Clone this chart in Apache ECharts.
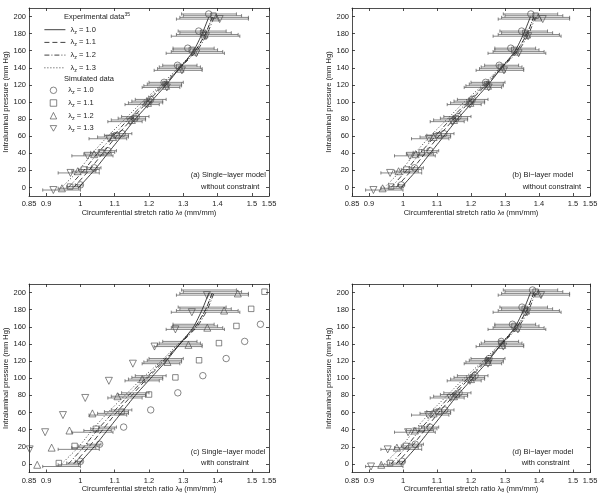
<!DOCTYPE html>
<html>
<head>
<meta charset="utf-8">
<script src="https://cdn.jsdelivr.net/npm/echarts@6/dist/echarts.min.js"></script>
<style>
html, body { margin: 0; padding: 0; background: #fff; }
#chart { width: 604px; height: 501px; }
</style>
</head>
<body>
<div id="chart"></div>
<script>
// pressure steps (mm Hg) and axis ticks
var pressures = [0, 20, 40, 60, 80, 100, 120, 140, 160, 180, 200];
var stretchTicks = [0.85, 0.9, 1, 1.1, 1.2, 1.3, 1.4, 1.5, 1.55];
var pressureTicks = [0, 20, 40, 60, 80, 100, 120, 140, 160, 180, 200];
var lambdaZ = ['1.0', '1.1', '1.2', '1.3'];

// experimental data: mean stretch and SD per axial stretch
var expMean10 = [0.995, 1.04, 1.08, 1.12, 1.16, 1.205, 1.25, 1.29, 1.33, 1.355, 1.375];
var expMean11 = [0.98, 1.025, 1.065, 1.105, 1.15, 1.195, 1.245, 1.29, 1.335, 1.365, 1.385];
var expMean12 = [0.965, 1.01, 1.05, 1.095, 1.14, 1.19, 1.24, 1.29, 1.34, 1.37, 1.39];
var expMean13 = [0.945, 0.995, 1.035, 1.08, 1.13, 1.18, 1.235, 1.285, 1.335, 1.365, 1.385];
var expSd10 = [0.01, 0.02, 0.025, 0.03, 0.04, 0.045, 0.05, 0.05, 0.06, 0.07, 0.08];
var expSd11 = [0.02, 0.03, 0.035, 0.035, 0.04, 0.045, 0.05, 0.06, 0.065, 0.075, 0.085];
var expSd12 = [0.03, 0.035, 0.04, 0.045, 0.05, 0.05, 0.055, 0.065, 0.075, 0.09, 0.1];
var expSd13 = [0.055, 0.06, 0.06, 0.055, 0.05, 0.05, 0.055, 0.07, 0.085, 0.1, 0.105];

// simulated data, panel (a) single-layer without constraint
var simA10 = [1.0, 1.04, 1.08, 1.122, 1.163, 1.205, 1.244, 1.283, 1.313, 1.345, 1.374];
var simA11 = [0.97, 1.01, 1.06, 1.105, 1.158, 1.2, 1.248, 1.288, 1.325, 1.358, 1.388];
var simA12 = [0.946, 0.992, 1.04, 1.095, 1.15, 1.197, 1.25, 1.292, 1.332, 1.362, 1.396];
var simA13 = [0.921, 0.971, 1.021, 1.084, 1.145, 1.195, 1.252, 1.296, 1.338, 1.366, 1.406];
// panel (b) bi-layer without constraint
var simB10 = [0.995, 1.034, 1.079, 1.12, 1.162, 1.204, 1.243, 1.283, 1.317, 1.349, 1.376];
var simB11 = [0.965, 1.01, 1.055, 1.105, 1.155, 1.2, 1.247, 1.288, 1.327, 1.36, 1.39];
var simB12 = [0.94, 0.987, 1.037, 1.09, 1.15, 1.198, 1.25, 1.292, 1.333, 1.365, 1.398];
var simB13 = [0.913, 0.962, 1.02, 1.076, 1.145, 1.197, 1.252, 1.297, 1.34, 1.368, 1.411];
// panel (c) single-layer with constraint
var simC10 = [1.0, 1.056, 1.126, 1.205, 1.284, 1.357, 1.425, 1.479, 1.525, null, null];
var simC11 = [0.937, 0.983, 1.045, 1.12, 1.2, 1.277, 1.346, 1.404, 1.455, 1.498, 1.537];
var simC12 = [0.874, 0.916, 0.968, 1.035, 1.108, 1.18, 1.254, 1.315, 1.37, 1.419, 1.459];
var simC13 = [null, 0.852, 0.897, 0.949, 1.014, 1.083, 1.153, 1.216, 1.277, 1.325, 1.369];
// panel (d) bi-layer with constraint
var simD10 = [0.998, 1.036, 1.079, 1.123, 1.165, 1.212, 1.253, 1.289, 1.322, 1.35, 1.381];
var simD11 = [0.962, 1.008, 1.055, 1.105, 1.158, 1.205, 1.25, 1.29, 1.328, 1.358, 1.39];
var simD12 = [0.936, 0.982, 1.035, 1.09, 1.15, 1.2, 1.25, 1.292, 1.333, 1.362, 1.398];
var simD13 = [0.906, 0.955, 1.015, 1.074, 1.14, 1.197, 1.25, 1.295, 1.338, 1.365, 1.406];

var panelTitles = [
  ['(a) Single\u2212layer model', 'without constraint'],
  ['(b) Bi\u2212layer model', 'without constraint'],
  ['(c) Single\u2212layer model', 'with constraint'],
  ['(d) Bi\u2212layer model', 'with constraint']
];

var expMeans = [expMean10, expMean11, expMean12, expMean13];
var expSds = [expSd10, expSd11, expSd12, expSd13];
var simPanels = [
  [simA10, simA11, simA12, simA13],
  [simB10, simB11, simB12, simB13],
  [simC10, simC11, simC12, simC13],
  [simD10, simD11, simD12, simD13]
];

// styling
var FONT = 'Liberation Sans, Arial, sans-serif';
var INK = '#222';
var lineTypes = ['solid', [5, 3], [5, 2, 1, 2], [1, 2]];
var markerSymbols = ['circle', 'rect', 'triangle', 'path://M0,0L2,0L1,1.732Z'];
var markerSizes = [6.5, 5.5, 7, 7];
var offsetP = [3, 1, -1, -3]; // small vertical shift so the groups don't overlap

var grids = [
  { left: 29, top: 8, width: 240, height: 188 },
  { left: 352, top: 8, width: 238, height: 188 },
  { left: 29, top: 284, width: 240, height: 188.5 },
  { left: 352, top: 284, width: 238, height: 188.5 }
];
var textPos = [
  [[190.7, 176], [201, 187.5]],
  [[512.3, 176], [522.7, 187.5]],
  [[190.7, 452.5], [201, 463.5]],
  [[512.3, 452.5], [521.7, 463.5]]
];

var subRich = {
  l: { fontSize: 7.5, fontFamily: FONT, color: INK },
  s: { fontSize: 5.5, fontFamily: FONT, color: INK, verticalAlign: 'bottom', lineHeight: 6 },
  g: { width: 6.5 }
};

var xAxes = [], yAxes = [], series = [], graphics = [];

grids.forEach(function(g, p) {
  xAxes.push({
    gridIndex: p, type: 'value', min: 0.85, max: 1.55, position: 'bottom',
    axisLine: { onZero: false, lineStyle: { color: INK, width: 0.8 } },
    axisTick: { inside: true, length: 3, customValues: stretchTicks, lineStyle: { color: INK, width: 0.8 } },
    axisLabel: { customValues: stretchTicks, fontSize: 7.5, fontFamily: FONT, color: INK, margin: 4 },
    splitLine: { show: false },
    name: 'Circumferential stretch ratio {l|λ}{s|θ} (mm/mm)',
    nameLocation: 'middle', nameGap: 11,
    nameTextStyle: { fontSize: 7.5, fontFamily: FONT, color: INK, rich: subRich }
  });
  xAxes.push({
    gridIndex: p, type: 'value', min: 0.85, max: 1.55, position: 'top',
    axisLine: { onZero: false, lineStyle: { color: INK, width: 0.8 } },
    axisTick: { inside: true, length: 3, customValues: stretchTicks, lineStyle: { color: INK, width: 0.8 } },
    axisLabel: { show: false },
    splitLine: { show: false }
  });
  yAxes.push({
    gridIndex: p, type: 'value', min: -10, max: 210, position: 'left',
    axisLine: { show: true, onZero: false, lineStyle: { color: INK, width: 0.8 } },
    axisTick: { show: true, inside: true, length: 3, customValues: pressureTicks, lineStyle: { color: INK, width: 0.8 } },
    axisLabel: { customValues: pressureTicks, fontSize: 7.5, fontFamily: FONT, color: INK, margin: 3 },
    splitLine: { show: false },
    name: 'Intraluminal pressure (mm Hg)',
    nameLocation: 'middle', nameGap: 17.5,
    nameTextStyle: { fontSize: 7.5, fontFamily: FONT, color: INK }
  });
  yAxes.push({
    gridIndex: p, type: 'value', min: -10, max: 210, position: 'right',
    axisLine: { show: true, onZero: false, lineStyle: { color: INK, width: 0.8 } },
    axisTick: { show: true, inside: true, length: 3, customValues: pressureTicks, lineStyle: { color: INK, width: 0.8 } },
    axisLabel: { show: false },
    splitLine: { show: false }
  });

  var xi = p * 2, yi = p * 2;
  for (var k = 0; k < 4; k++) {
    // horizontal error bars of the experiment
    var bars = pressures.map(function(pr, i) {
      return [expMeans[k][i] - expSds[k][i], expMeans[k][i] + expSds[k][i], pr + offsetP[k]];
    });
    series.push({
      type: 'custom', name: 'sd' + lambdaZ[k], xAxisIndex: xi, yAxisIndex: yi,
      encode: { x: [0, 1], y: 2 },
      data: bars, z: 2,
      renderItem: function(params, api) {
        var a = api.coord([api.value(0), api.value(2)]);
        var b = api.coord([api.value(1), api.value(2)]);
        var st = { stroke: '#555', lineWidth: 0.7 };
        return { type: 'group', children: [
          { type: 'line', shape: { x1: a[0], y1: a[1], x2: b[0], y2: b[1] }, style: st },
          { type: 'line', shape: { x1: a[0], y1: a[1] - 1.6, x2: a[0], y2: a[1] + 1.6 }, style: st },
          { type: 'line', shape: { x1: b[0], y1: b[1] - 1.6, x2: b[0], y2: b[1] + 1.6 }, style: st }
        ] };
      }
    });
    // experimental mean curve
    series.push({
      type: 'line', name: 'exp' + lambdaZ[k], xAxisIndex: xi, yAxisIndex: yi,
      data: pressures.map(function(pr, i) { return [expMeans[k][i], pr]; }),
      symbol: 'none', smooth: 0.2, z: 3,
      itemStyle: { color: '#111' },
      lineStyle: { color: '#111', width: 0.8, type: lineTypes[k] }
    });
    // simulated points
    var sim = simPanels[p][k];
    series.push({
      type: 'scatter', name: 'sim' + lambdaZ[k], xAxisIndex: xi, yAxisIndex: yi,
      data: pressures.map(function(pr, i) { return [sim[i], pr + offsetP[k]]; })
        .filter(function(d) { return d[0] !== null; }),
      symbol: markerSymbols[k], symbolSize: markerSizes[k], z: 4,
      itemStyle: { color: 'rgba(255,255,255,0)', borderColor: '#444', borderWidth: 0.8 }
    });
  }

  graphics.push({ type: 'text', left: textPos[p][0][0], top: textPos[p][0][1] - 5,
    style: { text: panelTitles[p][0], font: '7.5px ' + FONT, fill: INK } });
  graphics.push({ type: 'text', left: textPos[p][1][0], top: textPos[p][1][1] - 5,
    style: { text: panelTitles[p][1], font: '7.5px ' + FONT, fill: INK } });
});

// legend headings in panel (a)
graphics.push({ type: 'text', left: 64, top: 12.5,
  style: { text: 'Experimental data{sup|35}', font: '7.5px ' + FONT, fill: INK,
    rich: { sup: { fontSize: 5, fontFamily: FONT, color: INK, verticalAlign: 'top', lineHeight: 5 } } } });
graphics.push({ type: 'text', left: 64, top: 75,
  style: { text: 'Simulated data', font: '7.5px ' + FONT, fill: INK } });

var myechart = echarts.init(document.getElementById('chart'));
myechart.setOption({
  animation: false,
  backgroundColor: '#fff',
  grid: grids,
  xAxis: xAxes,
  yAxis: yAxes,
  legend: [
    {
      data: lambdaZ.map(function(l) { return 'exp' + l; }),
      orient: 'vertical', left: 39, top: 19.2, itemWidth: 21, itemHeight: 8, itemGap: 1.7,
      selectedMode: false,
      itemStyle: { color: 'rgba(0,0,0,0)', borderWidth: 0, opacity: 0 },
      lineStyle: { width: 0.8, color: '#111' },
      textStyle: { fontSize: 7.5, fontFamily: FONT, color: INK, lineHeight: 11, rich: subRich },
      formatter: function(name) { return '{l|λ}{s|z} = ' + name.slice(3); }
    },
    {
      data: lambdaZ.map(function(l) { return 'sim' + l; }),
      orient: 'vertical', left: 44.8, top: 79.8, itemWidth: 6.5, itemHeight: 6.5, itemGap: 1.7,
      selectedMode: false,
      itemStyle: { color: 'rgba(255,255,255,0)', borderColor: '#444', borderWidth: 0.8 },
      textStyle: { fontSize: 7.5, fontFamily: FONT, color: INK, lineHeight: 11, rich: subRich },
      formatter: function(name) { return '{g| }{l|λ}{s|z} = ' + name.slice(3); }
    }
  ],
  graphic: graphics,
  series: series
});
</script>
</body>
</html>
